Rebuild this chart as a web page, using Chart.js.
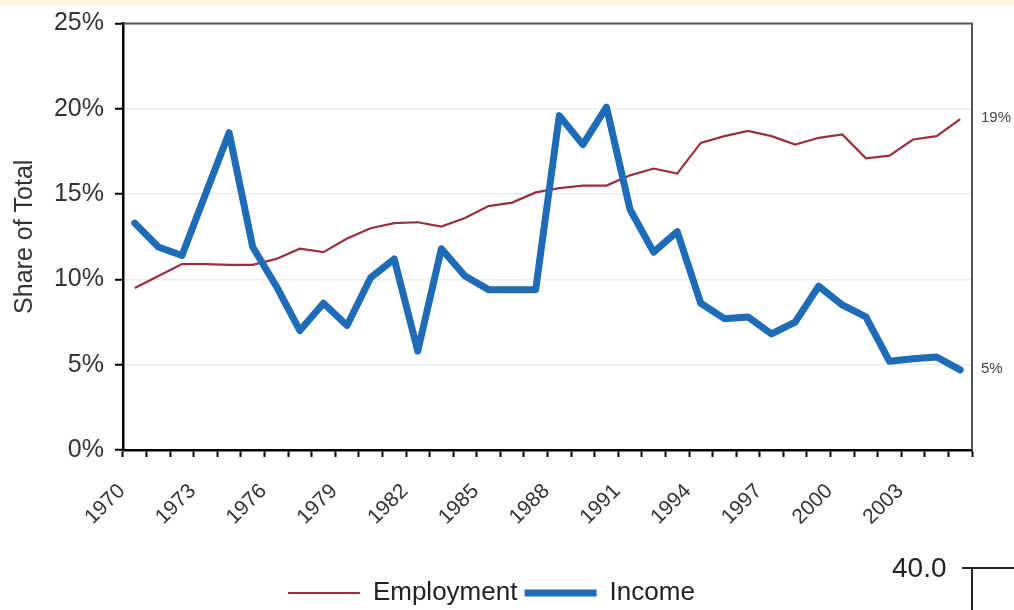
<!DOCTYPE html>
<html>
<head>
<meta charset="utf-8">
<script src="https://cdn.jsdelivr.net/npm/chart.js@4.4.1/dist/chart.umd.min.js"></script>
<style>
  html, body { margin: 0; padding: 0; background: #fff; }
  #wrap { position: relative; width: 1014px; height: 610px; overflow: hidden; }
  #strip { position: absolute; left: 0; top: 0; width: 1014px; height: 5px; background: #fcf7e2; }
  #next { position: absolute; left: 892px; top: 552px; font: 28px "Liberation Sans", Arial, sans-serif; color: #222; }
  #nextH { position: absolute; left: 962px; top: 567px; width: 52px; height: 2px; background: #222; }
  #nextV { position: absolute; left: 971px; top: 567px; width: 2px; height: 43px; background: #222; }
</style>
</head>
<body>
<div id="wrap">
  <canvas id="shareChart" width="1014" height="610"></canvas>
  <div id="strip"></div>
  <div id="next">40.0</div>
  <div id="nextH"></div>
  <div id="nextV"></div>
</div>
<script>
// Share of total, 1970-2005
const years = [];
for (let y = 1970; y <= 2005; y++) years.push(String(y));

const employment = [9.5, 10.2, 10.9, 10.9, 10.85, 10.85, 11.2, 11.8, 11.6, 12.4,
  13.0, 13.3, 13.35, 13.1, 13.6, 14.3, 14.5, 15.1, 15.35, 15.5,
  15.5, 16.1, 16.5, 16.2, 18.0, 18.4, 18.7, 18.4, 17.9, 18.3,
  18.5, 17.1, 17.25, 18.2, 18.4, 19.4];

const income = [13.3, 11.9, 11.4, 15.0, 18.6, 11.9, 9.6, 7.0, 8.6, 7.3,
  10.1, 11.2, 5.8, 11.8, 10.2, 9.4, 9.4, 9.4, 19.6, 17.9,
  20.1, 14.1, 11.6, 12.8, 8.6, 7.7, 7.8, 6.8, 7.5, 9.6,
  8.5, 7.8, 5.2, 5.35, 5.45, 4.7];

const yTicks = [0, 5, 10, 15, 20, 25];

const FONT = '"Liberation Sans", Arial, sans-serif';

// top + right frame of the plot area
const framePlugin = {
  id: 'frame',
  afterDraw(chart) {
    const { ctx, chartArea: a } = chart;
    ctx.save();
    ctx.strokeStyle = '#555';
    ctx.lineWidth = 2;
    ctx.beginPath();
    ctx.moveTo(a.left, a.top);
    ctx.lineTo(a.right, a.top);
    ctx.lineTo(a.right, a.bottom);
    ctx.stroke();
    ctx.restore();
  }
};

// value labels right of the last point
const endLabelPlugin = {
  id: 'endLabels',
  afterDatasetsDraw(chart) {
    const { ctx, chartArea: a } = chart;
    ctx.save();
    ctx.font = '15px ' + FONT;
    ctx.fillStyle = '#444';
    ctx.textBaseline = 'middle';
    chart.data.datasets.forEach((ds, i) => {
      const meta = chart.getDatasetMeta(i);
      const last = meta.data[meta.data.length - 1];
      const v = ds.data[ds.data.length - 1];
      ctx.fillText(Math.round(v) + '%', a.right + 9, last.y - 1);
    });
    ctx.restore();
  }
};

new Chart(document.getElementById('shareChart'), {
  type: 'line',
  data: {
    labels: years,
    datasets: [
      {
        label: 'Employment',
        data: employment,
        borderColor: '#983040',
        backgroundColor: '#983040',
        borderWidth: 2.2,
        pointRadius: 0,
        tension: 0,
        order: 1
      },
      {
        label: 'Income',
        data: income,
        borderColor: '#1e6bb8',
        backgroundColor: '#1e6bb8',
        borderWidth: 7,
        borderJoinStyle: 'round',
        borderCapStyle: 'round',
        pointRadius: 0,
        tension: 0,
        order: 0
      }
    ]
  },
  plugins: [framePlugin, endLabelPlugin],
  options: {
    responsive: false,
    animation: false,
    layout: { padding: { left: 18, right: 42, top: 22, bottom: -6 } },
    plugins: {
      legend: {
        position: 'bottom',
        labels: {
          usePointStyle: true,
          pointStyle: 'line',
          pointStyleWidth: 72,
          padding: 0,
          color: '#222',
          font: { family: FONT, size: 26 },
          sort: (a, b) => a.datasetIndex - b.datasetIndex,
          generateLabels(chart) {
            const items = Chart.defaults.plugins.legend.labels.generateLabels(chart);
            items.forEach(it => { it.text = it.text + ' '; });
            return items;
          }
        }
      },
      tooltip: { enabled: false }
    },
    scales: {
      x: {
        offset: true,
        afterFit(scale) { scale.height = 130; },
        grid: {
          offset: true,
          drawOnChartArea: false,
          tickLength: 7,
          tickColor: '#000',
          tickWidth: 2
        },
        border: { color: '#000', width: 2.5 },
        ticks: {
          autoSkip: false,
          maxRotation: 45,
          minRotation: 45,
          labelOffset: -13,
          padding: 22,
          color: '#333',
          font: { family: FONT, size: 21 },
          callback: (v, i) => (i % 3 === 0 ? years[i] : '')
        }
      },
      y: {
        min: yTicks[0],
        max: yTicks[yTicks.length - 1],
        afterFit(scale) { scale.width = 105; },
        afterBuildTicks(scale) { scale.ticks = yTicks.map(v => ({ value: v })); },
        grid: {
          color: '#ececec',
          lineWidth: 1.5,
          tickLength: 8,
          tickColor: '#000',
          tickWidth: 2
        },
        border: { color: '#000', width: 2.5 },
        ticks: {
          padding: 11,
          color: '#333',
          font: { family: FONT, size: 25, lineHeight: 1 },
          callback: v => v + '%'
        },
        title: {
          display: true,
          text: 'Share of Total',
          color: '#333',
          padding: { top: -8, bottom: 0 },
          font: { family: FONT, size: 25 }
        }
      }
    }
  }
});
</script>
</body>
</html>
